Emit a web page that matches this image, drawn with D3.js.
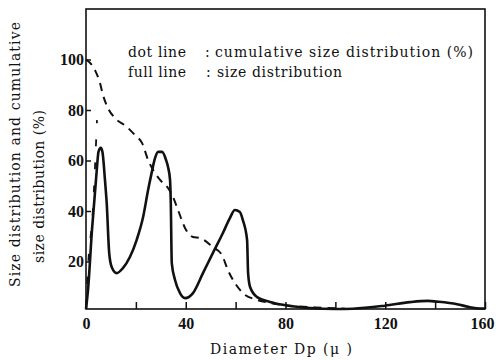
<!DOCTYPE html>
<html>
<head>
<meta charset="utf-8">
<script src="https://cdn.jsdelivr.net/npm/d3@7"></script>
<style>
  body { margin: 0; background: #fff; }
  svg text { fill: #111; }
</style>
</head>
<body>
<script>
// size distribution (full line)
const sizeDist = [
  [0, 1.2], [0.8, 8.7], [2.4, 32.5], [4.3, 56], [5.0, 63.4], [5.9, 65], [6.6, 63.4],
  [7.6, 52.3], [8.3, 43.2], [9.3, 23.4], [10.3, 17.8], [12.3, 15.4], [14.8, 17.4],
  [17.6, 21.8], [20.3, 28.5], [22.9, 37.6], [24.9, 48.3], [26.3, 55], [27.7, 61],
  [28.9, 63.4], [30.5, 63.4], [32.1, 60.2], [32.9, 57.4], [33.7, 52.3], [34, 43.2],
  [34.4, 19.4], [35.7, 12.7], [37.7, 7.5], [39.7, 5.5], [42.9, 7.5], [46.9, 15.4],
  [50.9, 23.4], [54.9, 31.3], [57.7, 37.2], [59.7, 40.4], [61.7, 39.6], [62.9, 36.4],
  [64.6, 28.5], [65, 15.4], [65.8, 9.9], [68.6, 5.9], [73.8, 4.0], [80.6, 2.6],
  [89.8, 1.6], [100, 1.2], [107, 1.3], [119.9, 2.5], [129.9, 3.9], [137.1, 4.4],
  [140.7, 4.1], [148.8, 3.1], [154, 1.9], [158, 1.4], [160, 1.4]
];

// cumulative size distribution (dot line)
const cumDist = [
  [0, 100], [3.6, 95.8], [5.6, 90.7], [6.8, 86], [8.8, 80.8], [11.6, 76.8],
  [16.4, 73.3], [19.6, 70.1], [22.5, 66.9], [24.9, 60.2], [27.7, 55], [29.7, 52.3],
  [32.9, 49.1], [34.9, 45.5], [36.9, 40.4], [39.7, 33.3], [42.9, 29.7], [45.7, 29.3],
  [50.9, 25.7], [54.5, 22.6], [56.9, 16.6], [59.7, 11.5], [62.9, 7.5], [68.6, 4.8],
  [73.8, 3.6], [80.6, 2.6], [92, 1.8], [104, 1.3]
];

// short dashed branch rising at the left edge
const cumRise = [[0, 2], [0.8, 17.8], [2.8, 41], [4.4, 76]];

const xTicks = [0, 20, 40, 60, 80, 100, 120, 140, 160];
const xLabels = [0, 40, 80, 120, 160];
const yTicks = [20, 40, 60, 80, 100];

const yTitle1 = "Size distribution and cumulative";
const yTitle2 = "size distribution (%)";
const xTitle = "Diameter Dp (\u03bc )";

const serif = "DejaVu Serif";
const tickFont = "'Liberation Serif', serif";
const W = 496, H = 360;
const svg = d3.select("body").append("svg")
    .attr("width", W)
    .attr("height", H)
    .attr("font-family", serif);

const x = d3.scaleLinear().domain([0, 160]).range([86, 485]);
const y = d3.scaleLinear().domain([0, 120]).range([312, 9]);
const yBase = 309;

// frame
svg.append("rect")
    .attr("x", x(0)).attr("y", y(120))
    .attr("width", x(160) - x(0)).attr("height", yBase - y(120))
    .attr("fill", "none").attr("stroke", "#111").attr("stroke-width", 1.6);

const xAxis = svg.append("g")
    .attr("transform", `translate(0,${yBase})`)
    .call(d3.axisBottom(x).tickValues(xTicks)
      .tickSizeInner(-7).tickSizeOuter(0).tickPadding(9)
      .tickFormat(d => xLabels.includes(d) ? d : ""));
xAxis.attr("font-family", tickFont);
xAxis.select(".domain").remove();
xAxis.selectAll("line").attr("stroke", "#111").attr("stroke-width", 1.5);
xAxis.selectAll("text").attr("font-size", 16).attr("font-weight", "bold")
    .attr("dx", d => d === 160 ? -3 : 0);

const yAxis = svg.append("g")
    .attr("transform", `translate(${x(0)},0)`)
    .call(d3.axisLeft(y).tickValues(yTicks)
      .tickSizeInner(-5).tickSizeOuter(0).tickPadding(2));
yAxis.attr("font-family", tickFont);
yAxis.select(".domain").remove();
yAxis.selectAll("line").attr("stroke", "#111").attr("stroke-width", 1.5);
yAxis.selectAll("text").attr("font-size", 16).attr("font-weight", "bold");

const line = d3.line()
    .x(d => x(d[0]))
    .y(d => y(d[1]))
    .curve(d3.curveMonotoneX);

svg.append("path")
    .datum(cumDist)
    .attr("d", line)
    .attr("fill", "none").attr("stroke", "#111")
    .attr("stroke-width", 2).attr("stroke-dasharray", "8,6");

svg.append("path")
    .datum(cumRise)
    .attr("d", line)
    .attr("fill", "none").attr("stroke", "#111")
    .attr("stroke-width", 1.8).attr("stroke-dasharray", "7,16");

svg.append("path")
    .datum(sizeDist)
    .attr("d", line)
    .attr("fill", "none").attr("stroke", "#111")
    .attr("stroke-width", 2.6).attr("stroke-linejoin", "round");

// legend
const legend = svg.append("g").attr("font-size", 14);
legend.append("text").attr("x", 128).attr("y", 57).text("dot line")
    .attr("textLength", 58);
legend.append("text").attr("x", 205).attr("y", 57).text(":");
legend.append("text").attr("x", 215).attr("y", 57)
    .text("cumulative size distribution (%)").attr("textLength", 258);
legend.append("text").attr("x", 128).attr("y", 77).text("full line")
    .attr("textLength", 58);
legend.append("text").attr("x", 206).attr("y", 77).text(":");
legend.append("text").attr("x", 217).attr("y", 77)
    .text("size distribution").attr("textLength", 125);

// axis titles
svg.append("text")
    .attr("transform", "translate(20,287) rotate(-90)")
    .attr("font-size", 14)
    .attr("textLength", 265)
    .text(yTitle1);
svg.append("text")
    .attr("transform", "translate(44,263) rotate(-90)")
    .attr("font-size", 14)
    .attr("textLength", 153)
    .text(yTitle2);

svg.append("text")
    .attr("x", 210).attr("y", 354)
    .attr("font-size", 14)
    .attr("textLength", 142)
    .text(xTitle);
</script>
</body>
</html>
